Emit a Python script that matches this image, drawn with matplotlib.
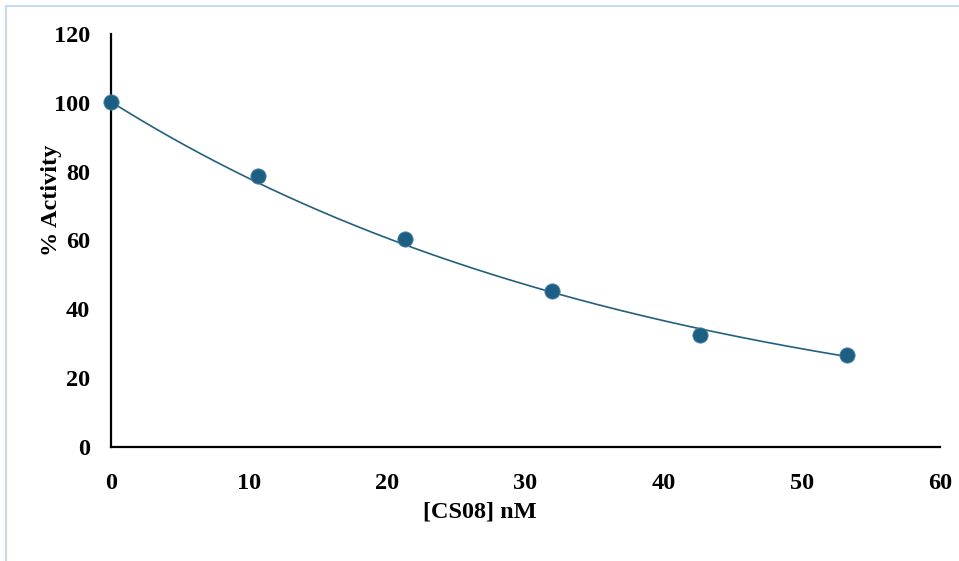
import numpy as np
import matplotlib
matplotlib.use("Agg")
import matplotlib.pyplot as plt
from matplotlib.patches import Rectangle

# Inhibitor concentration (nM) and measured enzyme activity (%)
conc_nm = [0.0, 10.65, 21.3, 31.95, 42.6, 53.25]
activity = [100.3, 78.8, 60.5, 45.4, 32.6, 26.8]

x_ticks = [0, 10, 20, 30, 40, 50, 60]
y_ticks = [0, 20, 40, 60, 80, 100, 120]

point_color = "#1d5f82"
line_color = "#22607f"

plt.rcParams["font.family"] = ["Liberation Serif", "DejaVu Serif"]
plt.rcParams["font.weight"] = "bold"

fig = plt.figure(figsize=(9.59, 5.61), dpi=100)
ax = fig.add_axes([111 / 959, 1 - 447 / 561, 829 / 959, 413 / 561])

# light frame around the chart area
fig.patches.append(Rectangle((6 / 959, -0.05), 1.1, 1 - 6 / 561 + 0.05,
                             transform=fig.transFigure, fill=False,
                             edgecolor="#c9daf0", linewidth=1.5, zorder=0))

# exponential trendline through the first point: y = y0 * exp(-k x)
x = np.asarray(conc_nm)
y = np.asarray(activity)
y0 = y[0]
k = np.sum(x * np.log(y / y0)) / np.sum(x * x)
xf = np.linspace(x.min(), x.max(), 300)
ax.plot(xf, y0 * np.exp(k * xf), color=line_color, lw=1.2, zorder=2)

ax.plot(x, y, "o", ms=11, color=point_color, markeredgecolor="#4f86a6",
        markeredgewidth=0.6, zorder=3, clip_on=False)

ax.set_xlim(0, 60)
ax.set_ylim(0, 120)
ax.set_xticks(x_ticks)
ax.set_yticks(y_ticks)
ax.tick_params(length=0, labelsize=17.5)
ax.tick_params(axis="y", pad=15)
ax.tick_params(axis="x", pad=19)
for lbl in ax.get_xticklabels() + ax.get_yticklabels():
    lbl.set_fontweight("bold")

for side in ("top", "right"):
    ax.spines[side].set_visible(False)
for side in ("left", "bottom"):
    ax.spines[side].set_linewidth(1.6)
    ax.spines[side].set_color("black")

ax.set_xlabel("[CS08] nM", fontsize=17.5, fontweight="bold")
ax.set_ylabel("% Activity", fontsize=17.5, fontweight="bold")
ax.xaxis.set_label_coords(0.445, -0.131)
ax.yaxis.set_label_coords(-0.059, 0.598)

fig.savefig("out.png", dpi=100)
